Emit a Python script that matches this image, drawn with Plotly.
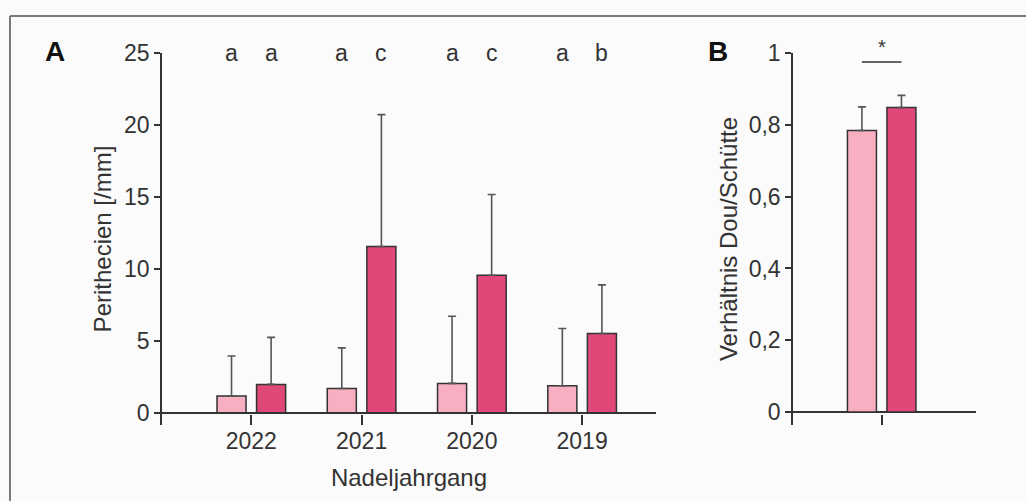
import plotly.graph_objects as go

# ---------------- data ----------------
years = ["2022", "2021", "2020", "2019"]
mean_light = [1.16, 1.69, 2.04, 1.88]
sd_light = [2.78, 2.82, 4.67, 3.98]
mean_dark = [1.97, 11.55, 9.56, 5.51]
sd_dark = [3.27, 9.17, 5.61, 3.38]
letters_light = ["a", "a", "a", "a"]
letters_dark = ["a", "c", "c", "b"]

ratio_cat = ["gesamt"]
ratio_light = [0.784]
ratio_light_sd = [0.066]
ratio_dark = [0.848]
ratio_dark_sd = [0.034]

yticks_a = [0, 5, 10, 15, 20, 25]
yticks_b = [0, 0.2, 0.4, 0.6, 0.8, 1]
yticktext_b = ["0", "0,2", "0,4", "0,6", "0,8", "1"]

# ---------------- style ----------------
W, H = 1026, 501
LIGHT = "#F7AFC1"
DARK = "#E04877"
EDGE = "#333333"
ERR = "#555555"
TXT = "#333333"
BG = "#FBFBFB"
FONT = "Liberation Sans, Arial, sans-serif"
TICK = 23
TITLE = 24

def px_x(p):
    return p / W

def px_y(p):
    return 1 - p / H

fig = go.Figure()

def bar(x, y, sd, color, xa, ya, name):
    return go.Bar(
        x=x, y=y, name=name, xaxis=xa, yaxis=ya,
        marker=dict(color=color, line=dict(color=EDGE, width=1.5)),
        error_y=dict(type="data", array=sd, arrayminus=[0] * len(sd), symmetric=False,
                     color=ERR, thickness=1.6, width=4),
        showlegend=False,
    )

fig.add_trace(bar(years, mean_light, sd_light, LIGHT, "x", "y", "Variante 1"))
fig.add_trace(bar(years, mean_dark, sd_dark, DARK, "x", "y", "Variante 2"))
fig.add_trace(bar(ratio_cat, ratio_light, ratio_light_sd, LIGHT, "x2", "y2", "Variante 1"))
fig.add_trace(bar(ratio_cat, ratio_dark, ratio_dark_sd, DARK, "x2", "y2", "Variante 2"))

ydom = [px_y(425), px_y(53)]

common_y = dict(
    showline=True, linecolor=EDGE, linewidth=1.5, showgrid=False,
    zeroline=True, zerolinecolor=EDGE, zerolinewidth=1.5,
    ticks="outside", ticklen=6, tickwidth=1.5, tickcolor=EDGE,
    tickfont=dict(size=TICK, color=TXT, family=FONT),
    domain=ydom, automargin=False,
)
common_x = dict(
    showline=False, showgrid=False, zeroline=False,
    ticks="inside", ticklen=10, tickwidth=1.5, tickcolor=EDGE,
    tickfont=dict(size=TICK, color=TXT, family=FONT),
    type="category", automargin=False,
)

fig.update_layout(
    template="none",
    width=W, height=H, autosize=False,
    margin=dict(l=0, r=0, t=0, b=0, pad=0),
    paper_bgcolor=BG, plot_bgcolor=BG,
    font=dict(family=FONT, color=TXT, size=TICK),
    barmode="group", bargap=0.282, bargroupgap=0.266,
    showlegend=False,
    xaxis=dict(common_x, domain=[px_x(162), px_x(656)], range=[-0.81, 3.67], anchor="y",
               categoryorder="array", categoryarray=years,
               title=dict(text="Nadeljahrgang", font=dict(size=TITLE, color=TXT), standoff=16)),
    yaxis=dict(common_y, range=[-0.85, 25], tickvals=yticks_a, anchor="x",
               title=dict(text="Perithecien [/mm]", font=dict(size=TITLE, color=TXT), standoff=6)),
    xaxis2=dict(common_x, domain=[px_x(793), px_x(976)], range=[-0.806, 0.857], anchor="y2",
                showticklabels=False),
    yaxis2=dict(common_y, range=[-0.036, 1.0], tickvals=yticks_b, ticktext=yticktext_b,
                anchor="x2",
                title=dict(text="Verhältnis Dou/Schütte", font=dict(size=TITLE, color=TXT), standoff=4)),
)

# significance letters above bars (panel A)
shift = 19.75
for i, (la, ld) in enumerate(zip(letters_light, letters_dark)):
    for txt, s in ((la, -shift), (ld, shift)):
        fig.add_annotation(x=i, y=yticks_a[-1], xref="x", yref="y", text=txt, showarrow=False,
                           xshift=s, yanchor="middle", font=dict(size=TICK, color=TXT))

# significance bracket (panel B)
half = 0.18
fig.add_shape(type="line", xref="x2", yref="y2", x0=-half, x1=half, y0=0.975, y1=0.975,
              line=dict(color=EDGE, width=1.5))
fig.add_annotation(x=0, y=0.975, xref="x2", yref="y2", text="*", showarrow=False,
                   yanchor="bottom", yshift=2, font=dict(size=20, color=TXT))

# panel letters
for lab, xp in (("A", 55), ("B", 718)):
    fig.add_annotation(x=px_x(xp), y=px_y(52), xref="paper", yref="paper", text=f"<b>{lab}</b>",
                       showarrow=False, xanchor="center", yanchor="middle",
                       font=dict(size=28, color="#111111"))

# outer frame (top and left edges visible)
fig.add_shape(type="line", xref="paper", yref="paper", x0=px_x(10), x1=1.0,
              y0=px_y(16), y1=px_y(16), line=dict(color="#7A7A7A", width=2))
fig.add_shape(type="line", xref="paper", yref="paper", x0=px_x(10), x1=px_x(10),
              y0=0.0, y1=px_y(16), line=dict(color="#7A7A7A", width=2))

fig.write_html("out.html", config={"displayModeBar": False},
               post_script="document.body.style.margin='0';")
